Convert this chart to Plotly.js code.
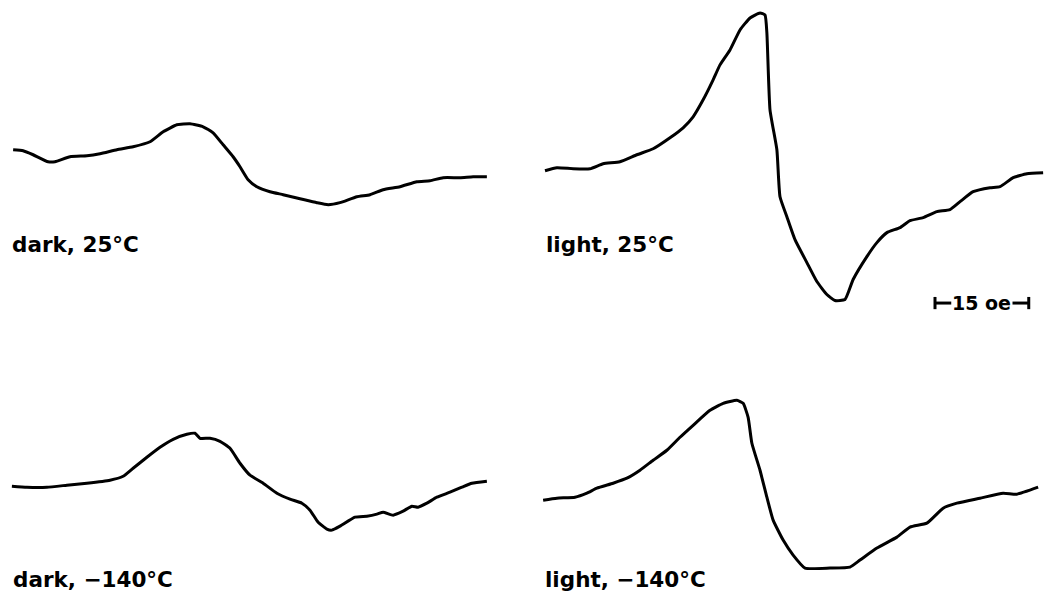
<!DOCTYPE html>
<html>
<head>
<meta charset="utf-8">
<script src="https://cdn.plot.ly/plotly-3.0.1.min.js"></script>
<style>
  html, body { margin: 0; padding: 0; background: #fff; }
  #chart { width: 1045px; height: 611px; }
</style>
</head>
<body>
<div id="chart"></div>
<script>
// Field (oe, arbitrary offset) and derivative signal (arbitrary units)
const darkWarmField = [2.1,3.7,5.3,7.7,8.8,11.2,13.9,16.0,18.7,21.3,24.0,26.1,28.3,30.4,32.5,34.1,35.7,37.3,38.4,39.7,41.1,43.2,45.3,48.0,50.7,52.5,54.4,57.1,59.2,61.3,64.0,66.7,68.8,70.9,73.6,75.7,77.9];
const darkWarmSignal = [15.6,15.5,15.1,14.4,14.4,14.9,15.0,15.2,15.6,15.9,16.4,17.4,18.1,18.2,17.9,17.3,16.1,14.9,13.9,12.6,11.9,11.4,11.1,10.7,10.3,10.1,10.3,10.9,11.1,11.6,11.9,12.4,12.5,12.8,12.8,12.9,12.9];

const lightWarmField = [87.2,89.1,91.7,94.4,96.5,99.2,101.9,104.5,107.2,109.3,110.9,112.5,114.1,115.2,116.8,118.4,120.0,121.6,122.4,122.7,123.2,124.3,124.8,125.9,127.2,129.1,130.7,132.3,133.6,135.2,136.5,138.7,140.3,141.9,144.0,145.6,147.7,149.9,152.0,153.6,155.7,158.4,160.0,162.1,164.3,166.9];
const lightWarmSignal = [13.5,13.8,13.7,13.7,14.2,14.4,15.1,15.7,16.8,17.8,18.9,20.6,22.6,24.1,25.6,27.6,28.8,29.3,29.1,27.3,19.6,15.6,10.9,8.9,6.6,4.3,2.4,1.1,0.5,0.6,2.6,4.9,6.3,7.3,7.8,8.5,8.8,9.4,9.6,10.4,11.4,11.8,11.9,12.8,13.2,13.3];

const darkColdField = [1.9,4.3,7.5,10.7,13.9,17.6,19.7,21.3,23.5,25.6,27.7,29.9,31.2,32.0,33.6,35.2,36.8,38.4,40.0,42.1,44.3,46.4,48.3,49.6,50.9,52.3,53.1,54.4,56.8,58.7,60.3,61.3,62.9,64.5,65.9,66.9,68.3,69.9,72.0,73.9,75.5,77.9];
const darkColdSignal = [12.5,12.4,12.4,12.6,12.8,13.1,13.5,14.3,15.4,16.4,17.2,17.7,17.8,17.3,17.3,17.0,16.3,14.8,13.6,12.8,11.8,11.2,10.8,10.1,8.9,8.2,8.1,8.5,9.4,9.5,9.7,9.9,9.6,10.0,10.5,10.4,10.8,11.4,11.9,12.4,12.8,13.0];

const lightColdField = [86.9,89.1,92.0,93.9,95.5,98.1,100.3,102.4,104.5,106.7,108.8,110.9,113.6,115.7,117.9,118.9,119.7,120.3,121.6,122.7,123.7,125.3,126.9,128.8,132.8,136.0,137.6,140.3,143.5,145.6,148.3,150.9,153.1,156.8,160.5,162.7,166.1];
const lightColdSignal = [11.1,11.3,11.4,11.8,12.3,12.8,13.3,14.1,15.1,16.1,17.4,18.6,20.1,20.8,21.1,20.8,19.4,16.8,14.1,11.4,9.1,7.1,5.6,4.3,4.3,4.4,5.1,6.3,7.4,8.4,8.8,10.3,10.8,11.3,11.8,11.7,12.4];

const panelLabels = ["dark, 25°C", "light, 25°C", "dark, −140°C", "light, −140°C"];
const scaleBarOe = 15;
const scaleBarText = "15 oe";

const lineStyle = {color: "#000", width: 3, shape: "spline", smoothing: 0.45};
const traces = [
  {x: darkWarmField, y: darkWarmSignal, xaxis: "x", yaxis: "y"},
  {x: lightWarmField, y: lightWarmSignal, xaxis: "x2", yaxis: "y"},
  {x: darkColdField, y: darkColdSignal, xaxis: "x", yaxis: "y2"},
  {x: lightColdField, y: lightColdSignal, xaxis: "x2", yaxis: "y2"}
].map(t => Object.assign(t, {type: "scatter", mode: "lines", line: lineStyle, hoverinfo: "skip", showlegend: false}));

const hidden = {visible: false, fixedrange: true};
const labelFont = {family: "DejaVu Sans, sans-serif", size: 21.5, color: "#000", weight: "bold"};

const barStart = 149.6, barEnd = barStart + scaleBarOe, barY = 0.504;
const tick = 0.01;
const layout = {
  width: 1045, height: 611,
  margin: {l: 0, r: 0, t: 0, b: 0},
  paper_bgcolor: "#fff", plot_bgcolor: "#fff",
  showlegend: false,
  xaxis: Object.assign({domain: [0, 0.5], range: [0, 83.6]}, hidden),
  xaxis2: Object.assign({domain: [0.5, 1], range: [83.6, 167.2]}, hidden),
  yaxis: Object.assign({domain: [0.5, 1], range: [0, 30.6]}, hidden),
  yaxis2: Object.assign({domain: [0, 0.5], range: [0, 30.6]}, hidden),
  annotations: [
    {text: panelLabels[0], xref: "paper", yref: "paper", x: 0.0095, y: 0.600, xanchor: "left", yanchor: "middle", showarrow: false, font: labelFont},
    {text: panelLabels[1], xref: "paper", yref: "paper", x: 0.521, y: 0.600, xanchor: "left", yanchor: "middle", showarrow: false, font: labelFont},
    {text: panelLabels[2], xref: "paper", yref: "paper", x: 0.0105, y: 0.052, xanchor: "left", yanchor: "middle", showarrow: false, font: labelFont},
    {text: panelLabels[3], xref: "paper", yref: "paper", x: 0.520, y: 0.052, xanchor: "left", yanchor: "middle", showarrow: false, font: labelFont},
    {text: scaleBarText, xref: "x2", yref: "paper", x: (barStart + barEnd) / 2, y: barY, xanchor: "center", yanchor: "middle", showarrow: false,
     font: {family: "DejaVu Sans, sans-serif", size: 19, color: "#000", weight: "bold"}}
  ],
  shapes: [
    {type: "line", xref: "x2", yref: "paper", x0: barStart, x1: barStart + 2.6, y0: barY, y1: barY, line: {color: "#000", width: 3}},
    {type: "line", xref: "x2", yref: "paper", x0: barEnd - 2.6, x1: barEnd, y0: barY, y1: barY, line: {color: "#000", width: 3}},
    {type: "line", xref: "x2", yref: "paper", x0: barStart, x1: barStart, y0: barY - tick, y1: barY + tick, line: {color: "#000", width: 3}},
    {type: "line", xref: "x2", yref: "paper", x0: barEnd, x1: barEnd, y0: barY - tick, y1: barY + tick, line: {color: "#000", width: 3}}
  ]
};

Plotly.newPlot("chart", traces, layout, {staticPlot: true, displayModeBar: false});
</script>
</body>
</html>
